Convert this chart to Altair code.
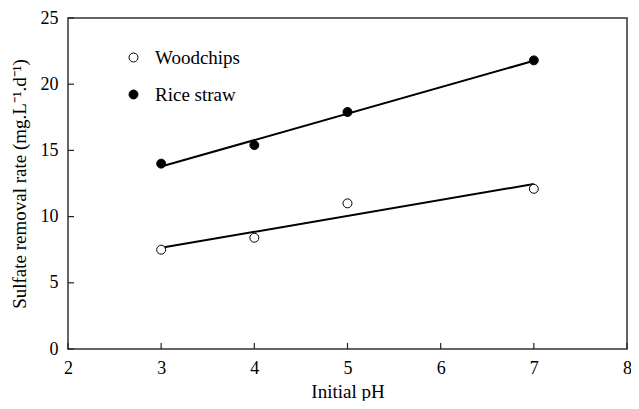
import altair as alt
import pandas as pd

ph = [3, 4, 5, 7]
woodchips = [7.5, 8.4, 11.0, 12.1]
rice_straw = [14.0, 15.4, 17.9, 21.8]
series_names = ["Woodchips", "Rice straw"]
x_ticks = [2, 3, 4, 5, 6, 7, 8]
y_ticks = [0, 5, 10, 15, 20, 25]

rows = []
for name, vals in zip(series_names, [woodchips, rice_straw]):
    for x, y in zip(ph, vals):
        rows.append({"pH": x, "rate": y, "series": name})
df = pd.DataFrame(rows)

W, H = 559, 331
FONT = "Liberation Serif, Times New Roman, serif"

xs = alt.Scale(domain=[2, 8], nice=False)
ys = alt.Scale(domain=[0, 25], nice=False)
x_axis = alt.Axis(values=x_ticks, format="d", title="Initial pH", ticks=False, domain=False,
                  grid=False, labelFlush=False, labelPadding=10, titlePadding=5,
                  labelFont=FONT, labelFontSize=18, titleFont=FONT, titleFontSize=19)
y_axis = alt.Axis(values=y_ticks, format="d", title="Sulfate removal rate (mg.L\u207b\u00b9.d\u207b\u00b9)",
                  ticks=False, domain=False, grid=False, labelFlush=False,
                  labelPadding=10, titlePadding=11,
                  labelFont=FONT, labelFontSize=18, titleFont=FONT, titleFontSize=19)

base = alt.Chart(df)

points = base.mark_point(shape="circle", size=80, stroke="black", strokeWidth=1, opacity=1, filled=False).encode(
    x=alt.X("pH:Q", scale=xs, axis=x_axis),
    y=alt.Y("rate:Q", scale=ys, axis=y_axis),
    fill=alt.Fill("series:N", scale=alt.Scale(domain=series_names, range=["white", "black"]),
                  legend=alt.Legend(title=None, orient="none", legendX=56, legendY=30,
                                    symbolType="circle", symbolSize=80, symbolStrokeColor="black",
                                    symbolStrokeWidth=1, rowPadding=17, labelFontSize=19,
                                    labelFont=FONT, labelOffset=12, labelColor="black")),
)

lines = base.transform_regression(
    "pH", "rate", groupby=["series"]
).mark_line(color="black", strokeWidth=2).encode(
    x=alt.X("pH:Q", scale=xs, axis=x_axis),
    y=alt.Y("rate:Q", scale=ys, axis=y_axis),
    detail="series:N",
)

xtick_df = pd.DataFrame({"pH": x_ticks})
ytick_df = pd.DataFrame({"rate": y_ticks})
xt = alt.Chart(xtick_df).mark_rule(color="#222", strokeWidth=1.2).encode(
    x=alt.X("pH:Q", scale=xs, axis=x_axis), y=alt.value(H), y2=alt.value(H - 6))
yt = alt.Chart(ytick_df).mark_rule(color="#222", strokeWidth=1.2).encode(
    y=alt.Y("rate:Q", scale=ys, axis=y_axis), x=alt.value(0), x2=alt.value(6))

chart = alt.layer(lines, points, xt, yt).properties(
    width=W, height=H,
    autosize=alt.AutoSizeParams(type="none"),
    padding={"left": 60, "top": 10, "right": 4, "bottom": 52},
).configure_view(stroke="#333", strokeWidth=1.5).configure_axis(
    labelColor="black", titleFontWeight="normal", titleColor="black",
).configure_legend(labelFont=FONT)

chart.save("out.html", embed_options={"renderer": "svg", "actions": False})
